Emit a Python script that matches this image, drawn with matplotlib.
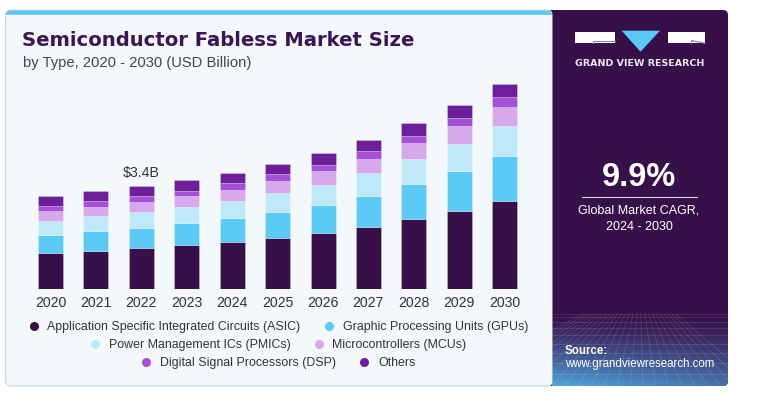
import numpy as np
import matplotlib
matplotlib.use("Agg")
import matplotlib.pyplot as plt
from matplotlib.patches import FancyBboxPatch, Rectangle, Polygon
from matplotlib.lines import Line2D

# ---------------- data ----------------
years = ["2020", "2021", "2022", "2023", "2024", "2025", "2026", "2027", "2028", "2029", "2030"]
series_names = [
    "Application Specific Integrated Circuits (ASIC)",
    "Graphic Processing Units (GPUs)",
    "Power Management ICs (PMICs)",
    "Microcontrollers (MCUs)",
    "Digital Signal Processors (DSP)",
    "Others",
]
asic = [1.20, 1.26, 1.34, 1.44, 1.55, 1.68, 1.84, 2.05, 2.30, 2.58, 2.90]
gpu = [0.59, 0.65, 0.68, 0.73, 0.78, 0.86, 0.93, 1.03, 1.15, 1.30, 1.47]
pmic = [0.46, 0.50, 0.52, 0.53, 0.58, 0.62, 0.67, 0.73, 0.83, 0.90, 1.00]
mcu = [0.33, 0.31, 0.34, 0.37, 0.37, 0.40, 0.44, 0.48, 0.53, 0.58, 0.63]
dsp = [0.16, 0.17, 0.19, 0.17, 0.20, 0.22, 0.21, 0.25, 0.25, 0.28, 0.32]
others = [0.34, 0.33, 0.33, 0.35, 0.34, 0.34, 0.39, 0.38, 0.41, 0.44, 0.44]
annot_year = "2022"
annot_label = "\\$3.4B"
cagr = "9.9%"

colors = ["#371049", "#5bcbf5", "#bde9f9", "#d5a9ec", "#a64fd7", "#6d1f9b"]
DARK = "#371049"

W, H = 760, 394
fig = plt.figure(figsize=(W / 100, H / 100), dpi=100)
fig.patch.set_facecolor("white")

# background / decoration axes in pixel coordinates
bg = fig.add_axes([0, 0, 1, 1], zorder=0)
bg.set_xlim(0, W)
bg.set_ylim(H, 0)
bg.axis("off")

# dark right panel
bg.add_patch(Rectangle((540, 10), 160, 376, facecolor=DARK, edgecolor="none"))
dark_round = FancyBboxPatch((540, 10), 188, 376, boxstyle="round,pad=0,rounding_size=5",
                            facecolor=DARK, edgecolor="none")
bg.add_patch(dark_round)

# gradient mesh at bottom of dark panel
gy = np.linspace(0, 1, 80)[:, None]
gx = np.linspace(0, 1, 120)[None, :]
t = np.clip((gy - 0.05) / 0.95, 0, 1) ** 1.3
t = t * (1.0 - 0.35 * gx)
c0 = np.array(matplotlib.colors.to_rgb(DARK))
c1 = np.array(matplotlib.colors.to_rgb("#4fa6df"))
img = c0[None, None, :] * (1 - t[..., None]) + c1[None, None, :] * t[..., None]
im = bg.imshow(img, extent=(552, 728, 386, 310), aspect="auto", origin="upper", zorder=1)
im.set_clip_path(dark_round)
# faint perspective mesh
for k in range(10):
    yy = 314 + 72 * (k / 9) ** 1.5
    ln, = bg.plot([552, 728], [yy, yy], color="white", alpha=0.13, lw=0.6, zorder=2)
    ln.set_clip_path(dark_round)
for k in range(-8, 17):
    xb = 552 + k * 13
    ln, = bg.plot([640 + (xb - 640) * 0.3, xb], [314, 386], color="white", alpha=0.13, lw=0.6, zorder=2)
    ln.set_clip_path(dark_round)

# left card
bg.add_patch(FancyBboxPatch((5.7, 10), 552 - 5.7, 376, boxstyle="round,pad=0,rounding_size=5",
                            facecolor="#5bc8f5", edgecolor="#cfd3d6", lw=0.8, zorder=3))
bg.add_patch(FancyBboxPatch((6.2, 14.8), 552 - 6.2, 370.7, boxstyle="round,pad=0,rounding_size=3",
                            facecolor="#f3f8fb", edgecolor="none", zorder=3))
bg.add_patch(Rectangle((6.2, 14.8), 546, 6, facecolor="#f3f8fb", edgecolor="none", zorder=3))

# title & subtitle
bg.text(22.5, 40, "Semiconductor Fabless Market Size", fontsize=14.1, fontweight="bold",
        family=["DejaVu Sans"], color="#3b1652", va="center", ha="left", zorder=4)
bg.text(23, 62.5, "by Type, 2020 - 2030 (USD Billion)", fontsize=10.6,
        family=["Liberation Sans", "DejaVu Sans"], color="#444444", va="center", ha="left", zorder=4)

# logo
bg.add_patch(Rectangle((575, 31.7), 40, 11.6, facecolor="white", edgecolor="none", zorder=4))
bg.plot([593, 593, 615], [43.3, 41.3, 41.3], color="#8a8a9a", lw=0.8, zorder=5)
bg.add_patch(Polygon([(621.7, 30.7), (660, 30.7), (640.5, 51.7)], closed=True,
                     facecolor="#5bc8f5", edgecolor="none", zorder=4))
bg.add_patch(Rectangle((668.3, 31.7), 36.7, 11.6, facecolor="white", edgecolor="none", zorder=4))
bg.plot([691.5, 691.5, 705], [43.3, 40.5, 43.3], color="#8a8a9a", lw=0.8, zorder=5)
bg.text(640, 63.5, "GRAND VIEW RESEARCH", fontsize=6.8, fontweight="bold", color="#e8e8ee",
        family=["DejaVu Sans"], ha="center", va="center", zorder=4)

# CAGR block
bg.text(639, 177, cagr, fontsize=23.5, fontweight="bold", color="white",
        family=["Liberation Sans", "DejaVu Sans"], ha="center", va="center", zorder=4)
bg.plot([582, 697], [196.7, 196.7], color="#d8d8e0", lw=0.8, zorder=4)
bg.text(639, 210.5, "Global Market CAGR,", fontsize=9.0, color="white",
        family=["Liberation Sans", "DejaVu Sans"], ha="center", va="center", zorder=4)
bg.text(639, 226.5, "2024 - 2030", fontsize=9.0, color="white",
        family=["Liberation Sans", "DejaVu Sans"], ha="center", va="center", zorder=4)

# source
bg.text(565, 351, "Source:", fontsize=8.3, fontweight="bold", color="white",
        family=["Liberation Sans", "DejaVu Sans"], ha="left", va="center", zorder=4)
bg.text(565, 364.5, "www.grandviewresearch.com", fontsize=8.3, color="white",
        family=["Liberation Sans", "DejaVu Sans"], ha="left", va="center", zorder=4)

# ---------------- bar chart ----------------
def fx(px):
    return px / W

def fy(py):
    return 1 - py / H

ax_left, ax_right, ax_bottom, ax_top = 20, 535, 289, 75
ax = fig.add_axes([fx(ax_left), fy(ax_bottom), (ax_right - ax_left) / W, (ax_bottom - ax_top) / H], zorder=5)
ax.patch.set_alpha(0)
x = np.arange(len(years))
ax.set_xlim(-0.671, 10.667)
ax.set_ylim(0, (ax_bottom - ax_top) * 3.4 / 103.1)

data = [asic, gpu, pmic, mcu, dsp, others]
bottom = np.zeros(len(years))
for vals, col, name in zip(data, colors, series_names):
    ax.bar(x, vals, width=0.55, bottom=bottom, color=col, edgecolor=(1, 1, 1, 0.35),
           linewidth=0.5, label=name)
    bottom = bottom + np.array(vals)

i = years.index(annot_year)
ax.annotate(annot_label, (x[i], bottom[i]), xytext=(0, 4.5), textcoords="offset points",
            ha="center", va="bottom", fontsize=10.2, color="#333333",
            family=["Liberation Sans", "DejaVu Sans"])

ax.set_xticks(x)
ax.set_xticklabels(years, fontsize=10.2, color="#333333", family=["Liberation Sans", "DejaVu Sans"])
ax.tick_params(axis="x", length=0, pad=5)
ax.set_yticks([])
for s in ax.spines.values():
    s.set_visible(False)

# legend in three centered rows
rows = [(0, 1), (2, 3), (4, 5)]
row_y = [327.3, 345, 363.3]
for (a, b), yy in zip(rows, row_y):
    handles = [Line2D([], [], marker="o", linestyle="none", markersize=6.5,
                      markerfacecolor=colors[j], markeredgecolor="none") for j in (a, b)]
    leg = fig.legend(handles, [series_names[a], series_names[b]], ncol=2, frameon=False,
                     loc="center", bbox_to_anchor=(fx(279), fy(yy)),
                     prop={"family": ["Liberation Sans", "DejaVu Sans"], "size": 8.9},
                     handlelength=0.6, handletextpad=0.8, columnspacing=2.0, borderpad=0, borderaxespad=0)
    for txt in leg.get_texts():
        txt.set_color("#333333")

fig.savefig("out.png", dpi=100, facecolor=fig.get_facecolor())
